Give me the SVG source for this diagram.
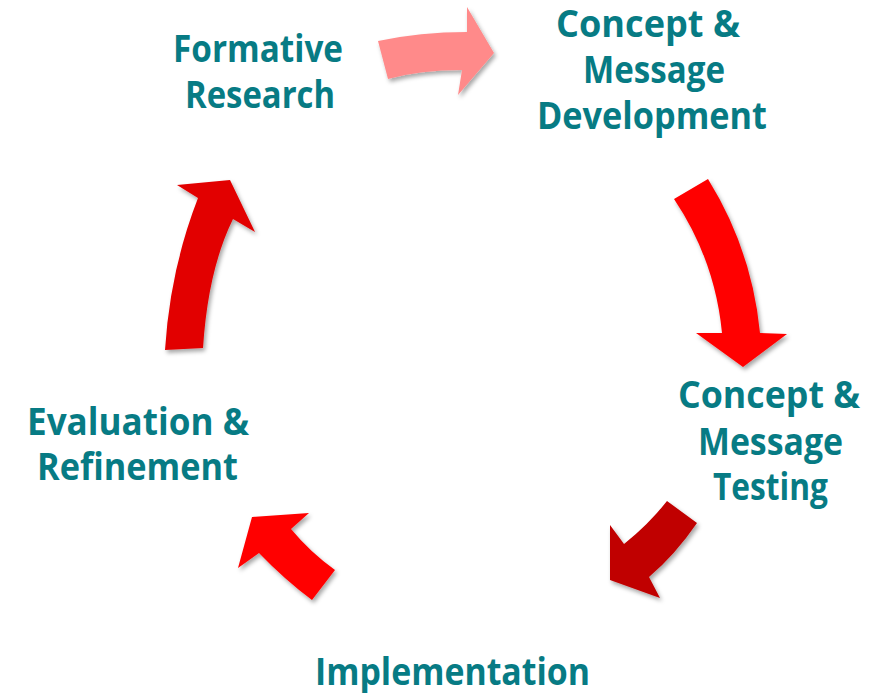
<svg xmlns="http://www.w3.org/2000/svg" width="880" height="693" viewBox="0 0 880 693">
<defs>
<filter id="sh" x="-20%" y="-20%" width="150%" height="150%">
<feDropShadow dx="2" dy="3" stdDeviation="2" flood-color="#000" flood-opacity="0.35"/>
</filter>
<style>
.t{font-family:"Open Sans","Noto Sans","Liberation Sans",sans-serif;font-weight:bold;font-size:37px;fill:#077B84;text-anchor:start}
.a{filter:url(#sh)}
</style>
</defs>
<rect width="880" height="693" fill="#fff"/>
<g id="connectors">
<path class="a" fill="#FF8A8A" d="M378,41 Q420,32 467,32 L467,7 L494,53 L458,95 L462,70 Q420,70 388,79 Z"/>
<path class="a" fill="#FF0000" d="M674,199 L708,179 Q752,250 760,333 L787,334 L743,367 L696,333 L722,333 Q715,260 674,199 Z"/>
<path class="a" fill="#C00000" d="M667,501 L697,523 Q675,555 649,577 L660,598 L610,580 L610,525 L624,544 Q648,525 667,501 Z"/>
<path class="a" fill="#FF0000" d="M309,513 L252,517 L238,568 L259,553 Q285,580 312,600 L335,570 Q310,552 291,529 Z"/>
<path class="a" fill="#E20000" d="M165,350 L203,348 Q208,270 233,219 L255,232 L230,180 L177,185 L198,198 Q170,270 165,350 Z"/>
</g>
<g id="formative">
<text class="t" x="173" y="62" textLength="170" lengthAdjust="spacingAndGlyphs">Formative</text>
<text class="t" x="185" y="108" textLength="150" lengthAdjust="spacingAndGlyphs">Research</text>
</g>
<g id="development">
<text class="t" x="556" y="37" textLength="184" lengthAdjust="spacingAndGlyphs">Concept &amp;</text>
<text class="t" x="583" y="83" textLength="142" lengthAdjust="spacingAndGlyphs">Message</text>
<text class="t" x="537" y="129" textLength="230" lengthAdjust="spacingAndGlyphs">Development</text>
</g>
<g id="testing">
<text class="t" x="678" y="408" textLength="182" lengthAdjust="spacingAndGlyphs">Concept &amp;</text>
<text class="t" x="698" y="455" textLength="145" lengthAdjust="spacingAndGlyphs">Message</text>
<text class="t" x="713" y="500" textLength="115" lengthAdjust="spacingAndGlyphs">Testing</text>
</g>
<g id="implementation">
<text class="t" x="315" y="685" textLength="275" lengthAdjust="spacingAndGlyphs">Implementation</text>
</g>
<g id="evaluation">
<text class="t" x="27" y="435" textLength="222" lengthAdjust="spacingAndGlyphs">Evaluation &amp;</text>
<text class="t" x="37" y="480" textLength="201" lengthAdjust="spacingAndGlyphs">Refinement</text>
</g>
</svg>
